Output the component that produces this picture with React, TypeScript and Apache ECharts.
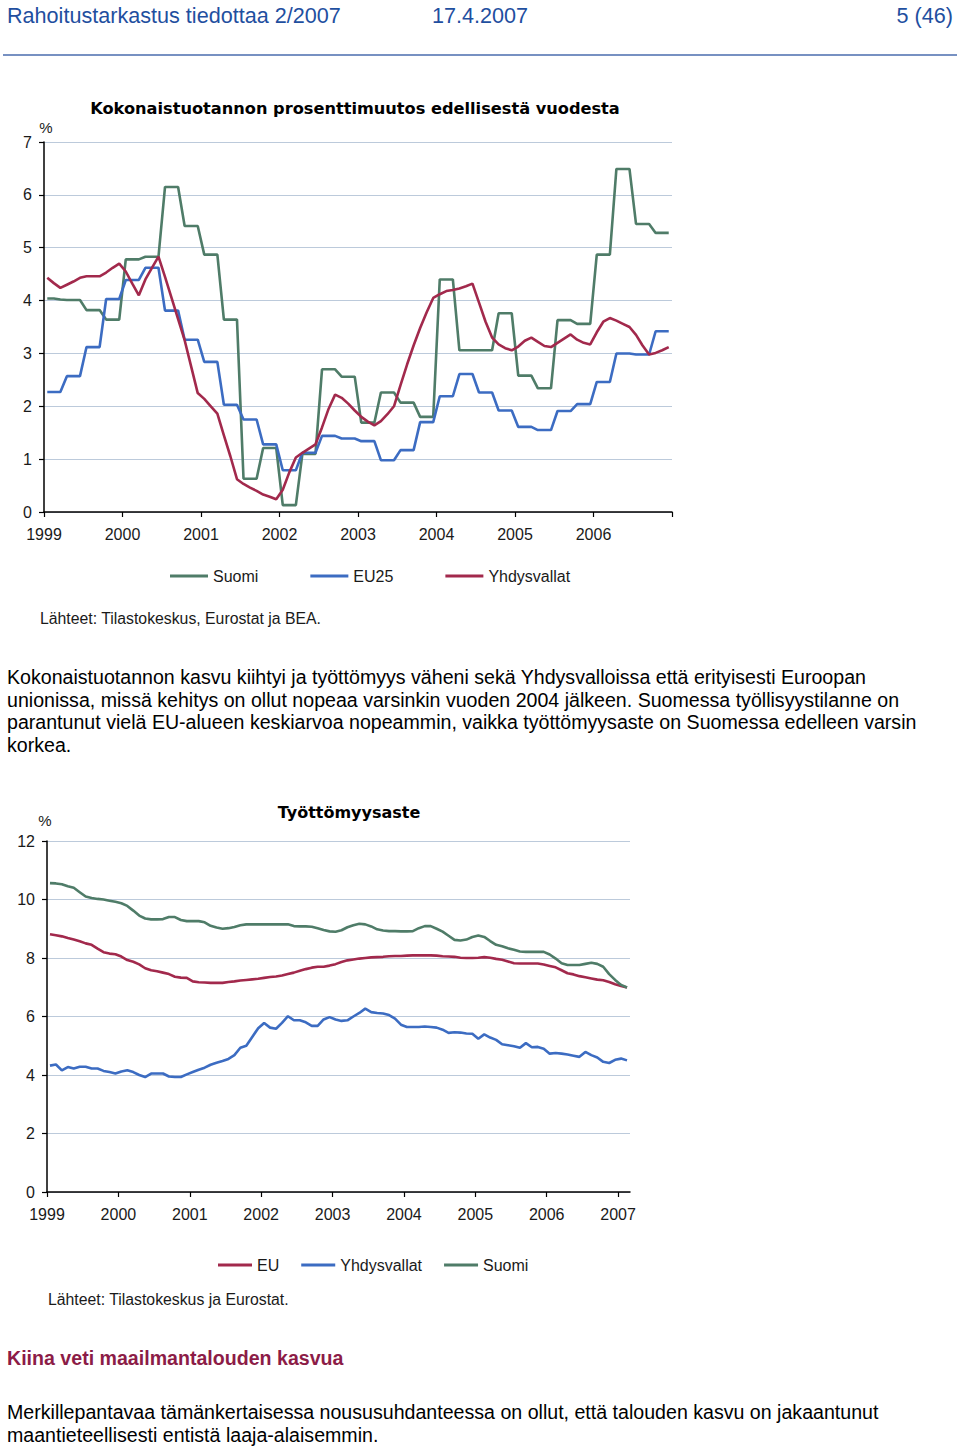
import React, { useEffect, useRef } from "react";
import * as echarts from "echarts";

// ---------- Chart 1: GDP % change (monthly points, Jan 1999 – Dec 2006) ----------
const gdpYearLabels = ["1999", "2000", "2001", "2002", "2003", "2004", "2005", "2006"];

const gdpSuomi = [
  4.04, 4.04, 4.02, 4.01, 4.01, 4.01,
  3.82, 3.82, 3.82, 3.64, 3.64, 3.64,
  4.78, 4.78, 4.78, 4.83, 4.83, 4.83,
  6.15, 6.15, 6.15, 5.41, 5.41, 5.41,
  4.87, 4.87, 4.87, 3.64, 3.64, 3.64,
  0.63, 0.63, 0.63, 1.21, 1.21, 1.21,
  0.13, 0.13, 0.13, 1.10, 1.10, 1.10,
  2.70, 2.70, 2.70, 2.56, 2.56, 2.56,
  1.69, 1.69, 1.69, 2.26, 2.26, 2.26,
  2.07, 2.07, 2.07, 1.80, 1.80, 1.80,
  4.40, 4.40, 4.40, 3.06, 3.06, 3.06,
  3.06, 3.06, 3.06, 3.76, 3.76, 3.76,
  2.58, 2.58, 2.58, 2.34, 2.34, 2.34,
  3.63, 3.63, 3.63, 3.56, 3.56, 3.56,
  4.87, 4.87, 4.87, 6.49, 6.49, 6.49,
  5.45, 5.45, 5.45, 5.28, 5.28, 5.28,
];

const gdpEU25 = [
  2.27, 2.27, 2.27, 2.57, 2.57, 2.57,
  3.12, 3.12, 3.12, 4.03, 4.03, 4.03,
  4.39, 4.39, 4.39, 4.62, 4.62, 4.62,
  3.81, 3.81, 3.81, 3.26, 3.26, 3.26,
  2.84, 2.84, 2.84, 2.03, 2.03, 2.03,
  1.75, 1.75, 1.75, 1.28, 1.28, 1.28,
  0.79, 0.79, 0.79, 1.12, 1.12, 1.12,
  1.44, 1.44, 1.44, 1.39, 1.39, 1.39,
  1.34, 1.34, 1.34, 0.98, 0.98, 0.98,
  1.17, 1.17, 1.17, 1.70, 1.70, 1.70,
  2.19, 2.19, 2.19, 2.61, 2.61, 2.61,
  2.26, 2.26, 2.26, 1.92, 1.92, 1.92,
  1.61, 1.61, 1.61, 1.55, 1.55, 1.55,
  1.91, 1.91, 1.91, 2.04, 2.04, 2.04,
  2.46, 2.46, 2.46, 3.00, 3.00, 3.00,
  2.98, 2.98, 2.98, 3.42, 3.42, 3.42,
];

const gdpUSA = [
  4.43, 4.33, 4.24, 4.30, 4.36, 4.43, 4.46, 4.46, 4.46, 4.53, 4.62, 4.70,
  4.55, 4.32, 4.10, 4.40, 4.62, 4.83, 4.45, 4.05, 3.65, 3.25, 2.75, 2.25,
  2.14, 2.00, 1.86, 1.45, 1.05, 0.62, 0.53, 0.46, 0.40, 0.33, 0.29, 0.24,
  0.42, 0.75, 1.03, 1.12, 1.20, 1.28, 1.60, 1.95, 2.22, 2.16, 2.05, 1.92,
  1.80, 1.71, 1.64, 1.72, 1.85, 2.00, 2.40, 2.79, 3.15, 3.48, 3.78, 4.05,
  4.12, 4.18, 4.20, 4.23, 4.27, 4.32, 3.96, 3.60, 3.30, 3.17, 3.10, 3.06,
  3.13, 3.24, 3.30, 3.22, 3.14, 3.12, 3.20, 3.28, 3.36, 3.26, 3.20, 3.17,
  3.40, 3.60, 3.67, 3.62, 3.56, 3.50, 3.35, 3.15, 2.98, 3.01, 3.06, 3.12,
];

// ---------- Chart 2: unemployment rate (monthly, Jan 1999 – Feb 2007) ----------
const unempYearLabels = ["1999", "2000", "2001", "2002", "2003", "2004", "2005", "2006", "2007"];

const unempEU = [
  8.81, 8.78, 8.74, 8.68, 8.63, 8.57, 8.50, 8.45, 8.32, 8.20,
  8.15, 8.13, 8.05, 7.93, 7.87, 7.78, 7.65, 7.58, 7.55, 7.50,
  7.45, 7.36, 7.33, 7.32, 7.20, 7.17, 7.16, 7.15, 7.15, 7.15,
  7.18, 7.20, 7.23, 7.25, 7.27, 7.29, 7.32, 7.35, 7.37, 7.40,
  7.45, 7.50, 7.56, 7.62, 7.67, 7.70, 7.70, 7.74, 7.79, 7.86,
  7.92, 7.95, 7.98, 8.00, 8.02, 8.03, 8.04, 8.06, 8.07, 8.07,
  8.08, 8.09, 8.09, 8.09, 8.09, 8.08, 8.06, 8.05, 8.04, 8.01,
  8.00, 8.00, 8.01, 8.03, 8.01, 7.97, 7.94, 7.88, 7.82, 7.81,
  7.81, 7.81, 7.81, 7.78, 7.73, 7.68, 7.58, 7.48, 7.44, 7.38,
  7.34, 7.30, 7.26, 7.24, 7.18, 7.10, 7.04, 6.99,
];

const unempUSA = [
  4.32, 4.36, 4.16, 4.27, 4.22, 4.28, 4.28, 4.22, 4.22, 4.14,
  4.10, 4.05, 4.12, 4.16, 4.10, 4.00, 3.93, 4.05, 4.05, 4.05,
  3.95, 3.93, 3.93, 4.02, 4.10, 4.18, 4.25, 4.35, 4.42, 4.48,
  4.55, 4.68, 4.93, 5.00, 5.30, 5.60, 5.78, 5.62, 5.58, 5.78,
  6.01, 5.87, 5.87, 5.80, 5.68, 5.68, 5.90, 5.98, 5.90, 5.85,
  5.87, 6.00, 6.12, 6.27, 6.15, 6.12, 6.10, 6.05, 5.93, 5.72,
  5.64, 5.64, 5.64, 5.66, 5.64, 5.62, 5.55, 5.44, 5.46, 5.45,
  5.42, 5.41, 5.24, 5.39, 5.28, 5.20, 5.05, 5.02, 4.98, 4.93,
  5.09, 4.95, 4.96, 4.90, 4.73, 4.75, 4.73, 4.70, 4.66, 4.62,
  4.79, 4.68, 4.60, 4.45, 4.41, 4.52, 4.56, 4.50,
];

const unempSuomi = [
  10.56, 10.55, 10.52, 10.45, 10.40, 10.25, 10.10, 10.05, 10.02, 10.00,
  9.96, 9.92, 9.87, 9.78, 9.62, 9.45, 9.35, 9.32, 9.32, 9.33,
  9.40, 9.40, 9.30, 9.26, 9.26, 9.26, 9.22, 9.10, 9.04, 9.00,
  9.02, 9.06, 9.12, 9.15, 9.15, 9.15, 9.15, 9.15, 9.15, 9.15,
  9.15, 9.09, 9.08, 9.08, 9.07, 9.02, 8.96, 8.91, 8.90, 8.95,
  9.05, 9.12, 9.17, 9.15, 9.08, 8.98, 8.94, 8.92, 8.92, 8.91,
  8.91, 8.92, 9.02, 9.09, 9.09, 9.00, 8.90, 8.76, 8.62, 8.60,
  8.63, 8.72, 8.77, 8.72, 8.58, 8.45, 8.40, 8.33, 8.28, 8.22,
  8.21, 8.21, 8.21, 8.21, 8.12, 7.98, 7.82, 7.76, 7.76, 7.76,
  7.80, 7.84, 7.80, 7.70, 7.45, 7.25, 7.08, 6.99,
];

// ---------- styling ----------
const FF = '"Liberation Sans", Arial, Helvetica, sans-serif';
const TITLE_FF = '"DejaVu Sans", Verdana, sans-serif';
const GREEN = "#4f7c68";
const BLUE = "#3c6cc2";
const RED = "#a2294c";
const GRID = "#bccadb";
const TXT = "#1a1a1a";

const toPoints = (arr: number[]) => arr.map((v, i) => [i + 0.5, v]);

function lineSeries(name: string, data: number[], color: string) {
  return {
    name,
    type: "line",
    data: toPoints(data),
    showSymbol: false,
    symbol: "none",
    color,
    lineStyle: { color, width: 2.6 },
    z: 3,
  };
}

function baseAxes(
  yMax: number,
  yInterval: number,
  xMax: number,
  labels: string[],
  tickValues: number[]
) {
  return {
    xAxis: {
      type: "value",
      min: 0,
      max: xMax,
      interval: 12,
      axisLine: { show: true, lineStyle: { color: "#000", width: 1.5 } },
      axisTick: {
        show: true,
        length: 5,
        customValues: tickValues,
        lineStyle: { color: "#000", width: 1.2 },
      },
      axisLabel: {
        customValues: tickValues,
        fontFamily: FF,
        fontSize: 16,
        color: TXT,
        margin: 14,
        formatter: (v: number) => labels[Math.round(v / 12)] ?? "",
      },
      splitLine: { show: false },
    },
    yAxis: {
      type: "value",
      min: 0,
      max: yMax,
      interval: yInterval,
      axisLine: { show: true, lineStyle: { color: "#000", width: 1.5 } },
      axisTick: { show: true, length: 5, lineStyle: { color: "#000", width: 1.2 } },
      axisLabel: { fontFamily: FF, fontSize: 16, color: TXT, margin: 12 },
      splitLine: { show: true, lineStyle: { color: GRID, width: 1.2 } },
    },
  };
}

function txt(x: number, y: number, text: string, extra: any = {}) {
  return {
    type: "text",
    x,
    y,
    silent: true,
    style: {
      text,
      fill: TXT,
      fontFamily: FF,
      fontSize: 16,
      align: "left",
      verticalAlign: "middle",
      ...extra,
    },
  };
}

const gdpTicks = [0, 12, 24, 36, 48, 60, 72, 84, 96];
const unempTicks = [0, 12, 24, 36, 48, 60, 72, 84, 96];

const HEAD_BLUE = "#1f4f9f";

const optionTop: any = {
  animation: false,
  textStyle: { fontFamily: FF },
  graphic: [
    txt(7, 15, "Rahoitustarkastus tiedottaa 2/2007", { fontSize: 21.6, fill: HEAD_BLUE }),
    txt(432, 15, "17.4.2007", { fontSize: 21.6, fill: HEAD_BLUE }),
    txt(953, 15, "5 (46)", { fontSize: 21.6, fill: HEAD_BLUE, align: "right" }),
    {
      type: "line",
      silent: true,
      shape: { x1: 3, y1: 55, x2: 957, y2: 55 },
      style: { stroke: "#4a6cae", lineWidth: 1.5 },
    },
    txt(355, 108, "Kokonaistuotannon prosenttimuutos edellisestä vuodesta", {
      fontFamily: TITLE_FF,
      fontWeight: "bold",
      fontSize: 16.2,
      fill: "#000",
      align: "center",
    }),
    txt(46, 127, "%", { fontSize: 15, align: "center" }),
    txt(40, 618, "Lähteet: Tilastokeskus, Eurostat ja BEA.", { fontSize: 15.8 }),
  ],
  grid: { left: 44, top: 142, width: 628, height: 370, containLabel: false },
  ...baseAxes(7, 1, 96, gdpYearLabels, gdpTicks),
  legend: {
    left: 165,
    top: 563,
    icon: "rect",
    itemWidth: 38,
    itemHeight: 3,
    itemGap: 52,
    textStyle: { fontFamily: FF, fontSize: 16, color: TXT },
    data: ["Suomi", "EU25", "Yhdysvallat"],
  },
  series: [
    lineSeries("Suomi", gdpSuomi, GREEN),
    lineSeries("EU25", gdpEU25, BLUE),
    lineSeries("Yhdysvallat", gdpUSA, RED),
  ],
};

const optionBottom: any = {
  animation: false,
  textStyle: { fontFamily: FF },
  graphic: [
    txt(349, 32, "Työttömyysaste", {
      fontFamily: TITLE_FF,
      fontWeight: "bold",
      fontSize: 16,
      fill: "#000",
      align: "center",
    }),
    txt(45, 40, "%", { fontSize: 15, align: "center" }),
    txt(48, 519, "Lähteet: Tilastokeskus ja Eurostat.", { fontSize: 15.8 }),
  ],
  grid: { left: 47, top: 61, width: 583, height: 351, containLabel: false },
  ...baseAxes(12, 2, 98, unempYearLabels, unempTicks),
  legend: {
    left: 213,
    top: 472,
    icon: "rect",
    itemWidth: 34,
    itemHeight: 3,
    itemGap: 22,
    textStyle: { fontFamily: FF, fontSize: 16, color: TXT },
    data: ["EU", "Yhdysvallat", "Suomi"],
  },
  series: [
    lineSeries("EU", unempEU, RED),
    lineSeries("Yhdysvallat", unempUSA, BLUE),
    lineSeries("Suomi", unempSuomi, GREEN),
  ],
};

function EChart({ option, style }: { option: any; style: React.CSSProperties }) {
  const ref = useRef<HTMLDivElement>(null);
  useEffect(() => {
    if (!ref.current) return;
    const chart = echarts.init(ref.current, null, { renderer: "svg" });
    chart.setOption(option);
    return () => chart.dispose();
  }, [option]);
  return <div ref={ref} style={style} />;
}

const paraStyle: React.CSSProperties = {
  position: "absolute",
  left: 7,
  margin: 0,
  fontFamily: FF,
  fontSize: 19.6,
  lineHeight: "22.5px",
  color: "#000",
  whiteSpace: "pre",
};

const introLines = [
  "Kokonaistuotannon kasvu kiihtyi ja työttömyys väheni sekä Yhdysvalloissa että erityisesti Euroopan",
  "unionissa, missä kehitys on ollut nopeaa varsinkin vuoden 2004 jälkeen. Suomessa työllisyystilanne on",
  "parantunut vielä EU-alueen keskiarvoa nopeammin, vaikka työttömyysaste on Suomessa edelleen varsin",
  "korkea.",
];

const closingLines = [
  "Merkillepantavaa tämänkertaisessa noususuhdanteessa on ollut, että talouden kasvu on jakaantunut",
  "maantieteellisesti entistä laaja-alaisemmin.",
];

export default function App() {
  return (
    <div
      style={{
        position: "absolute",
        left: 0,
        top: 0,
        width: 960,
        height: 1447,
        background: "#fff",
        overflow: "hidden",
      }}
    >
      <EChart
        option={optionTop}
        style={{ position: "absolute", left: 0, top: 0, width: 960, height: 640 }}
      />
      <div style={{ ...paraStyle, top: 666 }}>{introLines.join("\n")}</div>
      <EChart
        option={optionBottom}
        style={{ position: "absolute", left: 0, top: 780, width: 960, height: 540 }}
      />
      <div
        style={{
          ...paraStyle,
          top: 1347,
          fontWeight: "bold",
          color: "#8c1c47",
        }}
      >
        Kiina veti maailmantalouden kasvua
      </div>
      <div style={{ ...paraStyle, top: 1401 }}>{closingLines.join("\n")}</div>
    </div>
  );
}
